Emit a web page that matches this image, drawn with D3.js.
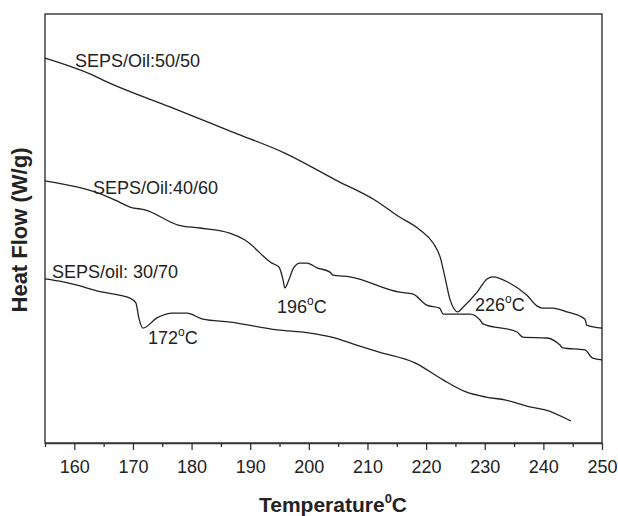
<!DOCTYPE html>
<meta charset="utf-8">
<style>
  body { margin: 0; background: #fff; }
  text { font-family: "Liberation Sans", Arial, sans-serif; fill: #222; }
</style>
<script src="https://d3js.org/d3.v7.min.js"></script>
<svg id="dsc" width="618" height="516"></svg>
<script>
  // DSC traces: temperature (°C) and heat flow (arbitrary units)
  var temp5050 = [155, 163.5, 165, 176.3, 187, 195.9, 204.6, 211.3, 215.2, 219.0, 221.2, 222.4, 223.2, 224.1, 225.4, 226.3, 228.7, 230.4, 231.4, 234.3, 237.2, 238.9, 239.8, 241.6, 244.0, 247.1, 247.4, 250];
  var flow5050 = [89.7, 85.5, 84.5, 78.3, 72.4, 67.5, 61.2, 56.5, 52.8, 49.5, 46.5, 43.2, 38.6, 33.2, 30.4, 31.5, 35.0, 38.1, 38.6, 37.1, 34.3, 31.8, 31.3, 31.3, 30.4, 28.7, 27.3, 26.6];

  var temp4060 = [155, 166.2, 167.6, 169.5, 172.2, 177.7, 181.4, 186.5, 189.1, 193.7, 194.9, 195.6, 195.9, 196.6, 197.4, 198.5, 199.7, 201.4, 203.6, 204.1, 207.0, 215.5, 217.7, 220.1, 222.3, 222.9, 227.5, 229.2, 229.7, 235.5, 236.5, 240.6, 242.8, 243.3, 247.1, 248.4, 250];
  var flow4060 = [61.0, 57.0, 56.1, 54.9, 54.2, 50.7, 50.0, 48.8, 47.2, 41.8, 40.9, 37.9, 36.0, 37.9, 40.7, 41.8, 41.8, 40.7, 39.7, 39.0, 38.6, 35.0, 34.6, 32.0, 31.3, 29.9, 29.9, 28.5, 27.6, 25.7, 24.5, 24.3, 22.7, 22.0, 21.5, 19.6, 19.2];

  var temp3070 = [155, 158.1, 164.9, 169.5, 170.5, 171.0, 171.7, 174.1, 176.8, 179.2, 181.9, 186.6, 194.6, 199.9, 203.9, 208.0, 212.0, 218.1, 222.9, 226.8, 230.2, 233.6, 237.7, 240.3, 244.7];
  var flow3070 = [38.1, 37.4, 35.0, 33.6, 32.5, 29.0, 26.6, 29.0, 30.1, 30.1, 28.7, 28.0, 26.2, 25.5, 24.5, 22.7, 21.0, 18.5, 14.5, 11.7, 10.5, 9.8, 8.2, 7.5, 4.9];

  var seriesNames = ["SEPS/Oil:50/50", "SEPS/Oil:40/60", "SEPS/oil: 30/70"];
  var majorTicks = [160, 170, 180, 190, 200, 210, 220, 230, 240, 250];
  var minorTicks = [155, 165, 175, 185, 195, 205, 215, 225, 235, 245];
  var peakTemps = [196, 226, 172];

  var svg = d3.select("#dsc");
  // plot box (note: "top" is taken by window.top, so prefixed names)
  var plotL = 45, plotR = 602, plotT = 14, plotB = 443;

  var x = d3.scaleLinear().domain([155, 250]).range([plotL, plotR]);
  var y = d3.scaleLinear().domain([0, 100]).range([plotB - 1, plotT]);

  function pairs(t, f) { return t.map(function (d, i) { return [d, f[i]]; }); }
  var series = [pairs(temp5050, flow5050), pairs(temp4060, flow4060), pairs(temp3070, flow3070)];

  var line = d3.line()
    .x(function (d) { return x(d[0]); })
    .y(function (d) { return y(d[1]); })
    .curve(d3.curveMonotoneX);

  // frame
  svg.append("rect")
    .attr("x", plotL).attr("y", plotT)
    .attr("width", plotR - plotL).attr("height", plotB - plotT)
    .attr("fill", "none").attr("stroke", "#333").attr("stroke-width", 1.4);

  // traces
  svg.append("g").selectAll("path")
    .data(series)
    .enter().append("path")
    .attr("d", line)
    .attr("fill", "none")
    .attr("stroke", "#222")
    .attr("stroke-width", 1.3);

  // x axis, major + minor ticks
  var xAxis = svg.append("g")
    .attr("transform", "translate(0," + plotB + ")")
    .call(d3.axisBottom(x).tickValues(majorTicks).tickSize(7).tickPadding(10).tickSizeOuter(0));
  xAxis.select(".domain").attr("stroke", "#333").attr("stroke-width", 1.4);
  xAxis.selectAll(".tick line").attr("stroke", "#333").attr("stroke-width", 1.3);
  xAxis.selectAll(".tick text")
    .attr("font-family", "Liberation Sans, Arial, sans-serif")
    .attr("font-size", 18).attr("fill", "#222");

  var xMinor = svg.append("g")
    .attr("transform", "translate(0," + plotB + ")")
    .call(d3.axisBottom(x).tickValues(minorTicks).tickSize(4).tickFormat(""));
  xMinor.select(".domain").remove();
  xMinor.selectAll(".tick line").attr("stroke", "#333").attr("stroke-width", 1.3);

  // series labels
  var labelPos = [[75, 66.5], [93, 194], [52, 278]];
  svg.append("g").selectAll("text")
    .data(seriesNames)
    .enter().append("text")
    .attr("x", function (d, i) { return labelPos[i][0]; })
    .attr("y", function (d, i) { return labelPos[i][1]; })
    .attr("font-size", 18)
    .text(function (d) { return d; });

  // peak labels
  var peakPos = [[277, 313], [475, 311], [148, 344]];
  peakTemps.forEach(function (p, i) {
    var t = svg.append("text")
      .attr("x", peakPos[i][0]).attr("y", peakPos[i][1])
      .attr("font-size", 18);
    t.append("tspan").text(p);
    t.append("tspan").attr("font-size", 12).attr("dy", -8).text("o");
    t.append("tspan").attr("dy", 8).text("C");
  });

  // axis titles
  var xt = svg.append("text")
    .attr("x", 333).attr("y", 512)
    .attr("text-anchor", "middle")
    .attr("font-size", 21).attr("font-weight", "bold");
  xt.append("tspan").text("Temperature");
  xt.append("tspan").attr("font-size", 13).attr("dy", -9).text("0");
  xt.append("tspan").attr("dy", 9).text("C");

  svg.append("text")
    .attr("transform", "translate(27,230) rotate(-90)")
    .attr("text-anchor", "middle")
    .attr("font-size", 22).attr("font-weight", "bold")
    .text("Heat Flow (W/g)");
</script>
